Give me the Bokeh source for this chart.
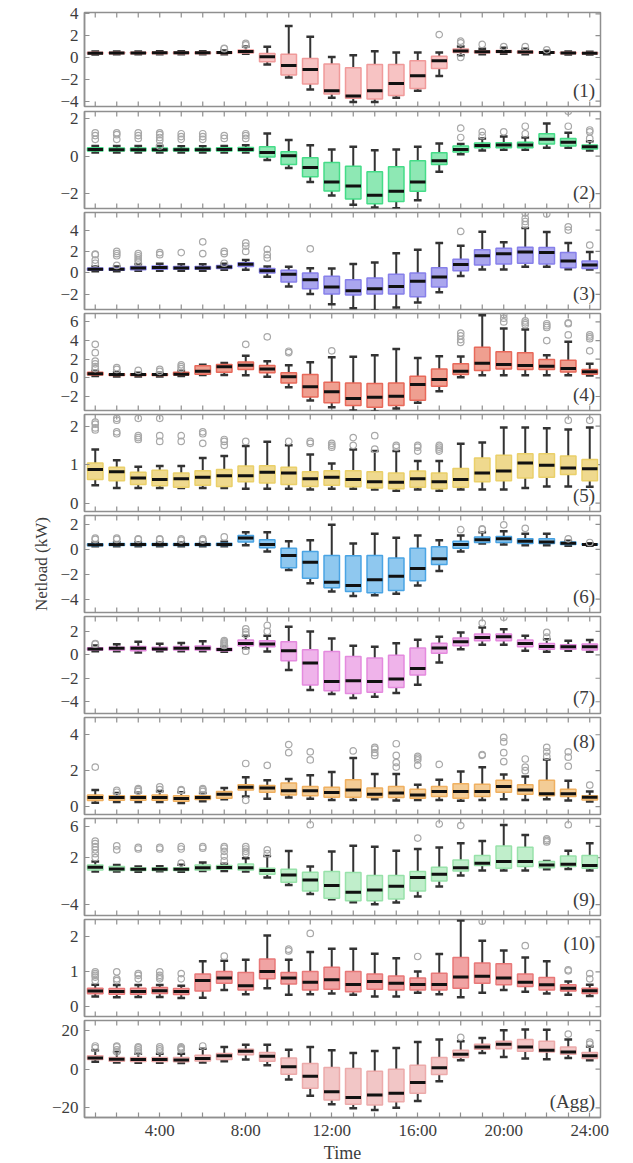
from bokeh.plotting import figure
from bokeh.layouts import column
from bokeh.models import FixedTicker, Label, Range1d, ColumnDataSource
from bokeh.embed import file_html
from bokeh.resources import INLINE

hours = list(range(1, 25))
x_tick_labels = {4: "4:00", 8: "8:00", 12: "12:00", 16: "16:00", 20: "20:00", 24: "24:00"}
panel_names = ["(1)", "(2)", "(3)", "(4)", "(5)", "(6)", "(7)", "(8)", "(9)", "(10)", "(Agg)"]

# ---- Panel 1
p1_lo  = [0.28,0.3,0.3,0.3,0.3,0.3,0.3,0.35,-0.64,-1.83,-2.93,-3.69,-4.08,-4.08,-3.69,-3.05,-1.7,0.2,0.3,0.35,0.3,0.3,0.28,0.28]
p1_q1  = [0.33,0.35,0.35,0.35,0.35,0.35,0.37,0.42,-0.4,-1.6,-2.44,-3.35,-3.75,-3.81,-3.5,-2.84,-1.0,0.45,0.42,0.45,0.4,0.38,0.35,0.33]
p1_med = [0.4,0.42,0.42,0.43,0.43,0.43,0.45,0.55,0.06,-0.73,-1.1,-3.05,-3.54,-3.05,-2.38,-1.68,-0.3,0.6,0.52,0.55,0.5,0.45,0.42,0.4]
p1_q3  = [0.47,0.48,0.48,0.5,0.5,0.5,0.53,0.68,0.37,0.3,-0.1,-0.6,-0.95,-0.64,-0.64,-0.3,0.12,0.78,0.62,0.65,0.6,0.52,0.48,0.46]
p1_hi  = [0.55,0.56,0.56,0.58,0.58,0.58,0.65,1.0,0.98,2.9,1.9,0.05,0.2,0.58,0.46,0.46,0.46,1.0,0.8,0.9,0.8,0.62,0.55,0.52]
p1_out = {7: [0.8, 0.85], 8: [1.15, 1.3], 17: [2.1], 18: [0.0, 1.35, 1.5], 19: [1.2], 20: [1.0], 21: [1.0], 22: [0.7]}

# ---- Panel 2
p2_lo  = [0.2,0.2,0.2,0.2,0.2,0.2,0.2,0.2,-0.2,-0.63,-1.38,-2.1,-2.6,-2.75,-2.79,-2.36,-0.84,0.1,0.3,0.35,0.35,0.45,0.45,0.3]
p2_q1  = [0.27,0.27,0.27,0.27,0.27,0.27,0.28,0.28,-0.04,-0.45,-1.1,-1.86,-2.29,-2.54,-2.43,-1.88,-0.45,0.22,0.45,0.45,0.45,0.65,0.55,0.38]
p2_med = [0.36,0.35,0.35,0.35,0.34,0.34,0.36,0.36,0.2,0.02,-0.6,-1.38,-1.59,-2.09,-1.88,-1.38,-0.25,0.36,0.57,0.6,0.6,0.9,0.75,0.5]
p2_q3  = [0.45,0.44,0.44,0.44,0.43,0.43,0.45,0.46,0.5,0.23,-0.09,-0.34,-0.54,-0.84,-0.57,-0.25,0.18,0.55,0.7,0.72,0.75,1.2,0.95,0.6]
p2_hi  = [0.55,0.55,0.55,0.55,0.53,0.53,0.55,0.58,1.21,0.86,0.59,0.36,0.5,0.32,0.36,0.5,0.68,0.65,0.95,1.05,1.0,1.75,1.25,0.8]
p2_out = {1: [0.9, 1.1, 1.25], 2: [0.9, 1.15, 1.25], 3: [0.95, 1.1, 1.25], 4: [0.55, 0.85, 1.0, 1.15, 1.25],
          5: [0.9, 1.05, 1.2], 6: [0.9, 1.05, 1.2], 7: [0.95, 1.1], 8: [0.95, 1.1, 1.2], 18: [1.0, 1.5],
          19: [1.1, 1.3], 20: [1.3], 21: [1.2, 1.6], 23: [1.6, 2.4], 24: [0.95, 1.3, 1.4]}

# ---- Panel 3
p3_lo  = [0.15,0.15,0.2,0.2,0.2,0.2,0.3,0.3,-0.35,-1.27,-1.97,-2.92,-3.3,-3.49,-3.24,-2.76,-1.81,-0.29,0.32,0.32,0.57,0.57,0.35,0.32]
p3_q1  = [0.25,0.25,0.3,0.35,0.35,0.35,0.4,0.6,0.0,-0.86,-1.49,-1.97,-2.06,-1.97,-1.97,-2.22,-1.33,0.19,0.73,0.83,0.89,0.83,0.48,0.41]
p3_med = [0.35,0.35,0.45,0.5,0.45,0.45,0.55,0.8,0.19,-0.13,-0.63,-1.33,-1.68,-1.49,-1.27,-0.79,-0.38,0.79,1.59,1.78,1.94,1.9,1.11,0.73]
p3_q3  = [0.45,0.45,0.6,0.65,0.6,0.6,0.68,0.95,0.4,0.25,0.0,-0.32,-0.63,-0.48,-0.13,0.0,0.48,1.27,2.16,2.3,2.4,2.38,1.9,1.11]
p3_hi  = [0.6,0.6,0.8,0.85,0.8,0.8,0.85,1.2,0.6,0.57,0.44,0.41,0.83,0.98,1.84,2.16,2.79,2.54,3.84,2.86,4.2,3.81,2.79,1.94]
p3_out = {1: [0.9, 1.2, 1.7, 1.75], 2: [0.7, 1.6, 1.8, 2.0], 3: [1.0, 1.2, 1.4, 1.6, 1.8], 4: [1.7, 1.9], 5: [1.9],
          6: [1.8, 2.9], 7: [0.9, 1.8, 2.0], 8: [2.0, 2.5, 2.8], 9: [1.4, 1.7, 2.2], 11: [2.25], 18: [3.87],
          21: [4.5, 4.8, 5.1, 5.6], 22: [5.5], 23: [4.0, 4.3], 24: [2.6]}

# ---- Panel 4
p4_lo  = [0.2,0.15,0.15,0.15,0.2,0.3,0.3,0.29,0.11,-1.0,-2.43,-3.14,-3.5,-3.57,-3.29,-2.68,-1.43,0.07,0.29,0.29,0.29,0.29,0.29,0.25]
p4_q1  = [0.3,0.25,0.25,0.25,0.3,0.4,0.6,0.89,0.54,-0.54,-2.04,-2.68,-2.96,-3.14,-2.96,-2.39,-0.89,0.36,0.79,0.96,0.89,0.89,0.64,0.4]
p4_med = [0.43,0.35,0.35,0.35,0.4,0.71,1.18,1.36,0.96,0.11,-0.96,-1.5,-2.21,-2.07,-1.96,-0.71,-0.18,0.71,1.57,1.43,1.32,1.25,1.0,0.65]
p4_q3  = [0.6,0.45,0.45,0.45,0.6,1.3,1.43,1.71,1.32,0.54,0.36,-0.46,-0.54,-0.6,-0.54,0.18,0.96,1.5,3.29,2.79,2.68,1.96,1.89,0.9]
p4_hi  = [0.75,0.6,0.55,0.55,0.75,1.4,1.6,2.36,1.79,1.36,1.68,2.21,2.25,2.43,3.1,2.14,2.32,2.29,6.7,5.29,5.18,2.43,3.86,1.5]
p4_out = {1: [1.0, 1.2, 1.5, 1.8, 2.7, 3.6], 2: [0.9, 1.1], 3: [0.8], 4: [0.7, 0.9], 5: [1.0, 1.2, 1.4],
          8: [3.6], 9: [4.4], 10: [2.7, 2.85], 12: [2.9], 18: [3.8, 4.1, 4.5, 4.8], 20: [6.0, 6.4, 6.8],
          21: [5.7, 5.9, 6.1], 22: [4.0, 5.4, 5.6, 5.8], 23: [4.6, 5.8, 5.9], 24: [2.9, 4.2, 4.4, 4.6]}

# ---- Panel 5
p5_lo  = [0.46,0.39,0.39,0.39,0.39,0.39,0.39,0.37,0.37,0.37,0.35,0.37,0.37,0.35,0.32,0.35,0.32,0.35,0.35,0.35,0.39,0.43,0.43,0.42]
p5_q1  = [0.61,0.58,0.48,0.45,0.41,0.46,0.43,0.55,0.52,0.48,0.43,0.46,0.42,0.39,0.37,0.41,0.37,0.41,0.55,0.58,0.65,0.67,0.74,0.58]
p5_med = [0.87,0.81,0.65,0.61,0.63,0.67,0.71,0.71,0.8,0.78,0.63,0.67,0.61,0.55,0.54,0.63,0.55,0.61,0.78,0.83,1.04,0.98,0.91,0.89]
p5_q3  = [1.04,0.93,0.8,0.85,0.78,0.84,0.87,0.96,0.97,0.93,0.81,0.84,0.84,0.81,0.78,0.83,0.78,0.9,1.17,1.24,1.28,1.28,1.22,1.13]
p5_hi  = [1.39,1.11,0.94,0.96,0.96,1.17,1.22,1.48,1.59,1.5,1.26,1.03,1.39,1.35,1.35,1.09,1.09,1.54,1.57,1.96,1.96,1.94,1.91,1.96]
p5_out = {1: [1.9, 1.95, 2.05, 2.1], 2: [1.8, 1.85, 2.15, 2.2], 3: [1.65, 1.7, 1.75, 2.2], 4: [1.6, 1.75, 2.2],
          5: [1.6, 1.75], 6: [1.55, 1.8, 1.85], 7: [1.5, 1.6, 1.65], 8: [1.6], 10: [1.6], 11: [1.55, 1.6],
          12: [1.45, 1.5, 1.55], 13: [1.5, 1.7], 14: [1.4, 1.75], 15: [1.45, 1.5], 16: [1.35, 1.45, 1.5],
          17: [1.35, 1.4, 1.45, 1.5], 23: [2.15], 24: [2.15]}

# ---- Panel 6
p6_lo  = [0.25,0.25,0.25,0.25,0.25,0.25,0.25,0.34,-0.18,-1.66,-2.73,-3.38,-3.74,-3.69,-3.56,-2.91,-1.74,-0.18,0.47,0.39,0.34,0.34,0.3,0.3]
p6_q1  = [0.3,0.32,0.32,0.32,0.32,0.32,0.32,0.6,0.13,-1.48,-2.31,-3.09,-3.38,-3.48,-3.3,-2.52,-1.22,0.08,0.55,0.55,0.47,0.47,0.4,0.35]
p6_med = [0.38,0.4,0.4,0.4,0.4,0.4,0.4,0.91,0.39,-0.49,-1.04,-2.65,-2.91,-2.44,-2.16,-1.53,-0.75,0.39,0.78,0.86,0.65,0.6,0.5,0.4]
p6_q3  = [0.46,0.48,0.48,0.48,0.48,0.48,0.5,1.12,0.78,0.08,-0.18,-0.49,-0.52,-0.49,-0.7,0.08,0.21,0.65,0.99,1.04,0.86,0.86,0.6,0.45]
p6_hi  = [0.55,0.58,0.58,0.58,0.58,0.58,0.62,1.38,1.38,0.65,0.73,1.97,0.47,1.25,0.94,1.12,0.73,1.12,1.38,1.45,1.25,1.25,0.7,0.5]
p6_out = {1: [0.8, 0.9], 2: [0.8, 0.9], 3: [0.8, 0.85], 4: [0.8, 0.85], 5: [0.75, 0.85], 6: [0.75, 0.85],
          7: [1.0], 18: [1.58], 19: [1.6, 1.65], 20: [1.97], 21: [1.69], 23: [0.85], 24: [0.55]}

# ---- Panel 7
p7_lo  = [0.3,0.3,0.2,0.3,0.3,0.3,0.25,0.55,0.28,-1.3,-3.0,-3.35,-3.69,-3.57,-3.26,-2.55,-0.65,0.48,0.85,0.85,0.34,0.26,0.34,0.26]
p7_q1  = [0.4,0.4,0.35,0.4,0.4,0.4,0.35,0.77,0.68,-0.51,-2.58,-3.06,-3.29,-3.2,-2.78,-1.73,0.14,0.77,1.19,1.19,0.68,0.48,0.48,0.4]
p7_med = [0.5,0.55,0.55,0.5,0.55,0.55,0.45,0.96,0.91,0.34,-0.71,-2.27,-2.21,-2.27,-2.07,-1.16,0.57,1.1,1.48,1.53,0.96,0.71,0.68,0.68]
p7_q3  = [0.6,0.65,0.7,0.65,0.7,0.75,0.55,1.25,1.19,1.1,0.43,0.28,-0.14,-0.28,-0.03,0.57,0.99,1.42,1.76,1.76,1.25,0.96,0.85,0.91]
p7_hi  = [0.8,0.9,1.1,0.95,1.0,1.15,0.7,1.62,1.62,2.38,1.99,1.39,0.77,0.68,0.99,1.28,1.53,1.9,2.33,2.18,1.62,1.33,1.19,1.25]
p7_out = {1: [0.9, 0.95], 7: [0.8, 0.9, 1.0, 1.1, 1.2], 8: [0.3, 1.75, 1.95, 2.2], 9: [2.0, 2.5],
          19: [2.7], 20: [3.2], 22: [1.5, 1.9]}

# ---- Panel 8
p8_lo  = [0.22,0.25,0.25,0.25,0.2,0.3,0.41,0.56,0.43,0.5,0.43,0.37,0.37,0.41,0.34,0.37,0.37,0.32,0.37,0.41,0.37,0.41,0.34,0.28]
p8_q1  = [0.34,0.35,0.35,0.35,0.3,0.4,0.47,0.93,0.8,0.65,0.6,0.52,0.52,0.5,0.5,0.47,0.56,0.47,0.56,0.8,0.69,0.6,0.56,0.37]
p8_med = [0.5,0.5,0.5,0.5,0.45,0.5,0.69,1.08,1.03,0.88,0.88,0.79,0.93,0.69,0.75,0.65,0.84,0.84,0.84,1.12,0.93,0.71,0.71,0.52]
p8_q3  = [0.65,0.6,0.6,0.65,0.6,0.6,0.84,1.21,1.18,1.31,1.12,1.08,1.5,1.03,1.12,0.97,1.12,1.27,1.25,1.46,1.21,1.46,0.97,0.6]
p8_hi  = [0.93,0.75,0.8,0.85,0.8,0.75,1.03,1.64,1.46,1.53,1.74,1.93,2.71,1.81,1.81,1.21,1.5,1.96,2.19,1.78,1.68,2.62,1.44,0.84]
p8_out = {1: [2.2], 2: [0.8, 0.9], 3: [0.85, 0.95, 1.0], 4: [0.95, 1.1], 5: [0.9, 0.95], 6: [0.85, 0.95, 1.0],
          8: [0.35, 2.4], 9: [2.3], 10: [3.0, 3.45], 11: [2.6, 3.05], 13: [3.1], 14: [2.85, 3.0, 3.2, 3.3],
          15: [2.2, 2.45, 2.85, 3.5], 16: [2.3, 2.6, 2.7, 2.8], 17: [2.35], 19: [2.85, 2.9],
          20: [2.5, 3.0, 3.6, 3.85], 21: [2.0, 2.2, 2.65], 22: [2.8, 3.05, 3.3], 23: [2.25, 2.75, 3.05], 24: [1.2]}

# ---- Panel 9
p9_lo  = [0.21,0.21,0.2,0.25,0.2,0.3,0.3,0.21,-0.55,-1.49,-2.64,-3.32,-3.7,-3.96,-3.74,-2.98,-1.7,-0.3,0.34,0.34,0.34,0.51,0.55,0.34]
p9_q1  = [0.43,0.34,0.35,0.35,0.35,0.43,0.5,0.43,-0.13,-1.15,-2.26,-3.19,-3.53,-3.53,-3.28,-2.26,-0.98,0.3,0.98,0.64,0.85,0.72,0.85,0.64]
p9_med = [0.77,0.55,0.5,0.5,0.5,0.72,0.75,0.72,0.34,-0.21,-0.85,-1.57,-2.43,-2.13,-1.66,-0.55,-0.13,0.72,1.28,1.49,1.49,1.06,1.15,0.98]
p9_q3  = [1.06,0.85,0.7,0.7,0.7,1.06,1.0,1.19,0.64,0.51,0.13,0.21,0.09,-0.3,-0.3,0.21,0.77,1.7,2.26,3.49,3.32,1.49,2.21,2.26]
p9_hi  = [1.49,1.06,0.85,0.9,1.1,1.36,1.2,1.91,2.21,2.85,0.85,2.77,3.53,3.4,2.89,3.1,3.28,3.83,4.13,6.17,4.89,1.57,2.89,3.83]
p9_out = {1: [2.0, 2.5, 3.0, 3.4, 3.8, 4.1], 2: [3.0, 3.5], 3: [3.1, 3.3], 4: [3.1, 3.3], 5: [1.3, 3.1, 3.4],
          6: [3.2, 3.4], 7: [1.6, 2.2, 2.8, 3.2, 3.4], 8: [2.5, 2.8, 3.1, 3.4], 9: [2.5, 3.0], 11: [6.2],
          16: [4.5], 17: [6.3], 18: [6.1], 22: [4.0, 4.2, 4.4], 23: [6.2]}

# ---- Panel 10
p10_lo  = [0.29,0.27,0.28,0.28,0.25,0.26,0.48,0.36,0.53,0.34,0.36,0.38,0.34,0.29,0.29,0.4,0.36,0.27,0.4,0.48,0.43,0.38,0.34,0.31]
p10_q1  = [0.37,0.36,0.36,0.38,0.35,0.45,0.67,0.48,0.8,0.65,0.48,0.5,0.43,0.5,0.48,0.48,0.48,0.53,0.67,0.63,0.58,0.48,0.45,0.38]
p10_med = [0.45,0.44,0.44,0.46,0.44,0.75,0.82,0.6,1.01,0.82,0.7,0.77,0.64,0.72,0.67,0.64,0.64,0.85,0.87,0.82,0.7,0.63,0.53,0.46]
p10_q3  = [0.53,0.52,0.53,0.55,0.52,0.94,1.01,0.98,1.37,0.98,1.01,1.13,1.01,0.94,0.88,0.82,0.96,1.41,1.25,1.23,0.94,0.84,0.63,0.53]
p10_hi  = [0.63,0.62,0.62,0.62,0.6,1.3,1.32,1.35,2.04,1.35,1.57,1.66,1.66,1.52,1.39,1.01,1.51,2.47,1.89,1.61,1.41,1.3,0.72,0.63]
p10_out = {1: [0.75, 0.85, 0.9, 0.95, 1.0], 2: [0.75, 0.8, 1.0], 3: [0.8, 0.9, 0.95], 4: [0.8, 0.85, 0.9, 1.0],
           5: [0.8, 0.95], 7: [1.45], 10: [1.6, 1.65], 11: [2.1], 16: [1.44], 19: [2.45], 21: [1.75],
           23: [1.03, 1.06], 24: [0.8, 0.95]}

# ---- Panel Agg
p11_lo  = [3.8,3.4,3.3,3.3,3.2,3.4,4.1,5.0,2.1,-5.3,-13.7,-18.2,-20.2,-21.1,-19.9,-16.5,-6.2,4.6,8.4,6.3,5.5,5.1,5.8,4.6]
p11_q1  = [5.0,4.1,4.0,4.0,3.8,4.3,5.0,7.5,4.1,-2.6,-9.9,-16.0,-18.2,-18.5,-16.8,-12.5,-2.7,6.0,10.3,10.6,9.3,8.9,7.7,5.5]
p11_med = [5.8,5.1,5.0,5.0,4.8,5.5,6.9,9.3,6.7,1.2,-3.6,-11.7,-14.6,-13.4,-12.5,-6.9,0.7,7.7,11.5,12.9,11.5,9.8,8.9,6.9]
p11_q3  = [6.9,6.0,6.0,6.0,6.0,7.2,8.1,10.3,8.6,5.8,2.9,0.9,0.3,-1.0,0.0,2.1,6.0,9.8,12.9,14.4,15.4,14.4,11.5,8.6]
p11_hi  = [9.8,8.9,8.0,8.0,8.0,10.6,11.5,12.7,12.7,10.1,11.5,9.8,8.4,9.4,11.0,14.1,15.4,14.4,16.1,20.1,20.6,20.4,15.4,11.8]
p11_out = {1: [11, 12], 2: [9, 10, 11.5, 12], 3: [9, 10, 11, 11.5], 4: [9.5, 10.5, 11.5], 5: [10, 10.5, 11, 11.5],
           6: [12], 18: [16.5], 23: [18.2], 24: [13, 14]}

# axis ranges and ticks per panel
y_ranges = [(-4.5, 4.13), (-2.8, 2.39), (-3.42, 5.64), (-3.5, 6.9), (-0.22, 2.3), (-5.07, 2.72),
            (-5.0, 3.26), (-0.44, 4.96), (-5.4, 7.0), (-0.28, 2.5), (-25.0, 25.2)]
y_ticks = [[-4, -2, 0, 2, 4], [-2, 0, 2], [-2, 0, 2, 4], [-2, 0, 2, 4, 6], [0, 1, 2], [-4, -2, 0, 2],
           [-4, -2, 0, 2], [0, 2, 4], [-4, 2, 6], [0, 1, 2], [-20, 0, 20]]
label_top = [False, False, False, False, False, False, False, True, False, True, False]

fill_colors = ["#f7c3c3", "#8ee8b4", "#aaa6ee", "#ef9f90", "#efd98e", "#8fc8ef", "#efb3ea",
               "#f3cc96", "#c0eecb", "#f0a3a3", "#f2c6c6"]
line_colors = ["#f09a9a", "#45dc88", "#8780ea", "#e8695a", "#ead06a", "#4aa4e4", "#e48ade",
               "#f0b060", "#98e2aa", "#e87878", "#ecaaaa"]

panels = [
    (p1_lo, p1_q1, p1_med, p1_q3, p1_hi, p1_out),
    (p2_lo, p2_q1, p2_med, p2_q3, p2_hi, p2_out),
    (p3_lo, p3_q1, p3_med, p3_q3, p3_hi, p3_out),
    (p4_lo, p4_q1, p4_med, p4_q3, p4_hi, p4_out),
    (p5_lo, p5_q1, p5_med, p5_q3, p5_hi, p5_out),
    (p6_lo, p6_q1, p6_med, p6_q3, p6_hi, p6_out),
    (p7_lo, p7_q1, p7_med, p7_q3, p7_hi, p7_out),
    (p8_lo, p8_q1, p8_med, p8_q3, p8_hi, p8_out),
    (p9_lo, p9_q1, p9_med, p9_q3, p9_hi, p9_out),
    (p10_lo, p10_q1, p10_med, p10_q3, p10_hi, p10_out),
    (p11_lo, p11_q1, p11_med, p11_q3, p11_hi, p11_out),
]

FONT = "Liberation Serif"
FRAME = "#8f8f8f"
TXT = "#3c3c3c"
BOX_W = 0.72
CAP_W = 0.36
N = len(panels)
FRAME_W = 516
X0, X1 = 0.5, 24.5
TICK_PX = 5.0

figs = []
for i, (lo, q1, med, q3, hi, out) in enumerate(panels):
    first = i == 0
    last = i == N - 1
    fh = 94 if first else 97
    y0, y1 = y_ranges[i]
    span = y1 - y0
    top_b = 12 if first else (1 if i == 1 else 2)
    bot_b = 0 if last else (4 if first else 2)
    p = figure(frame_width=FRAME_W, frame_height=fh,
               x_range=Range1d(X0, X1), y_range=Range1d(y0, y1),
               output_backend="svg", toolbar_location=None,
               min_border=0, min_border_left=84, min_border_right=33,
               min_border_top=top_b, min_border_bottom=bot_b,
               background_fill_color="white", border_fill_color="white")
    p.outline_line_color = FRAME
    p.outline_line_width = 1.5
    p.xgrid.visible = False
    p.ygrid.visible = False

    src = ColumnDataSource(dict(
        x=hours, lo=lo, q1=q1, med=med, q3=q3, hi=hi,
        xl=[h - BOX_W / 2 for h in hours], xr=[h + BOX_W / 2 for h in hours],
        cl=[h - CAP_W / 2 for h in hours], cr=[h + CAP_W / 2 for h in hours],
    ))

    # inward tick marks on top / bottom / right (frame decoration)
    ty = TICK_PX / fh * span
    tx = TICK_PX / FRAME_W * (X1 - X0)
    p.segment(x0=hours, y0=[y1] * 24, x1=hours, y1=[y1 - ty] * 24, line_color=FRAME, line_width=1.2)
    if not last:
        p.segment(x0=hours, y0=[y0] * 24, x1=hours, y1=[y0 + ty] * 24, line_color=FRAME, line_width=1.2)
    yt = y_ticks[i]
    p.segment(x0=[X1] * len(yt), y0=yt, x1=[X1 - tx] * len(yt), y1=yt, line_color=FRAME, line_width=1.2)

    # whiskers
    p.segment(x0="x", y0="q3", x1="x", y1="hi", source=src, line_color="#333333", line_width=2)
    p.segment(x0="x", y0="q1", x1="x", y1="lo", source=src, line_color="#333333", line_width=2)
    p.segment(x0="cl", y0="hi", x1="cr", y1="hi", source=src, line_color="#333333", line_width=2.5)
    p.segment(x0="cl", y0="lo", x1="cr", y1="lo", source=src, line_color="#333333", line_width=2.5)
    # boxes
    p.vbar(x="x", width=BOX_W, top="q3", bottom="q1", source=src,
           fill_color=fill_colors[i], line_color=line_colors[i], line_width=1.5)
    # medians
    p.segment(x0="xl", y0="med", x1="xr", y1="med", source=src, line_color="#111111", line_width=3)
    # outliers
    ox = [h for h in hours for v in out.get(h, [])]
    oy = [v for h in hours for v in out.get(h, [])]
    p.scatter(ox, oy, marker="circle", size=6.5, fill_color=None, line_color="#a8a8a8", line_width=1.2)

    # bottom x axis only on last panel
    xa = p.xaxis[0]
    if last:
        xa.ticker = FixedTicker(ticks=hours)
        xa.major_label_overrides = {h: x_tick_labels.get(h, "") for h in hours}
        xa.major_tick_in = int(TICK_PX)
        xa.major_tick_out = 0
        xa.minor_tick_line_color = None
        xa.axis_line_color = FRAME
        xa.axis_line_width = 1.5
        xa.major_tick_line_color = FRAME
        xa.major_tick_line_width = 1.2
        xa.major_label_text_font = FONT
        xa.major_label_text_font_size = "17px"
        xa.major_label_text_color = TXT
        xa.major_label_standoff = 3
        xa.axis_label = "Time"
        xa.axis_label_text_font = FONT
        xa.axis_label_text_font_size = "18px"
        xa.axis_label_text_font_style = "normal"
        xa.axis_label_text_color = TXT
        xa.axis_label_standoff = 0
    else:
        xa.visible = False

    # left y axis
    ya = p.yaxis[0]
    ya.ticker = FixedTicker(ticks=yt)
    ya.major_tick_in = int(TICK_PX)
    ya.major_tick_out = 0
    ya.minor_tick_line_color = None
    ya.axis_line_color = FRAME
    ya.axis_line_width = 1.5
    ya.major_tick_line_color = FRAME
    ya.major_tick_line_width = 1.2
    ya.major_label_text_font = FONT
    ya.major_label_text_font_size = "17px"
    ya.major_label_text_color = TXT
    ya.major_label_standoff = 6
    if i == 5:
        ya.axis_label = "Netload (kW)"
        ya.axis_label_text_font = FONT
        ya.axis_label_text_font_size = "17px"
        ya.axis_label_text_font_style = "normal"
        ya.axis_label_text_color = TXT
        ya.axis_label_standoff = 6

    # panel label
    if label_top[i]:
        ly = y1 - 13.0 / fh * span
        base = "top"
    else:
        ly = y0 + 6.0 / fh * span
        base = "bottom"
    p.add_layout(Label(x=24.25, y=ly, text=panel_names[i], text_align="right", text_baseline=base,
                       text_font=FONT, text_font_size="19px", text_color=TXT))
    figs.append(p)

layout = column(*figs, spacing=0)
open("out.html", "w").write(file_html(layout, INLINE))
